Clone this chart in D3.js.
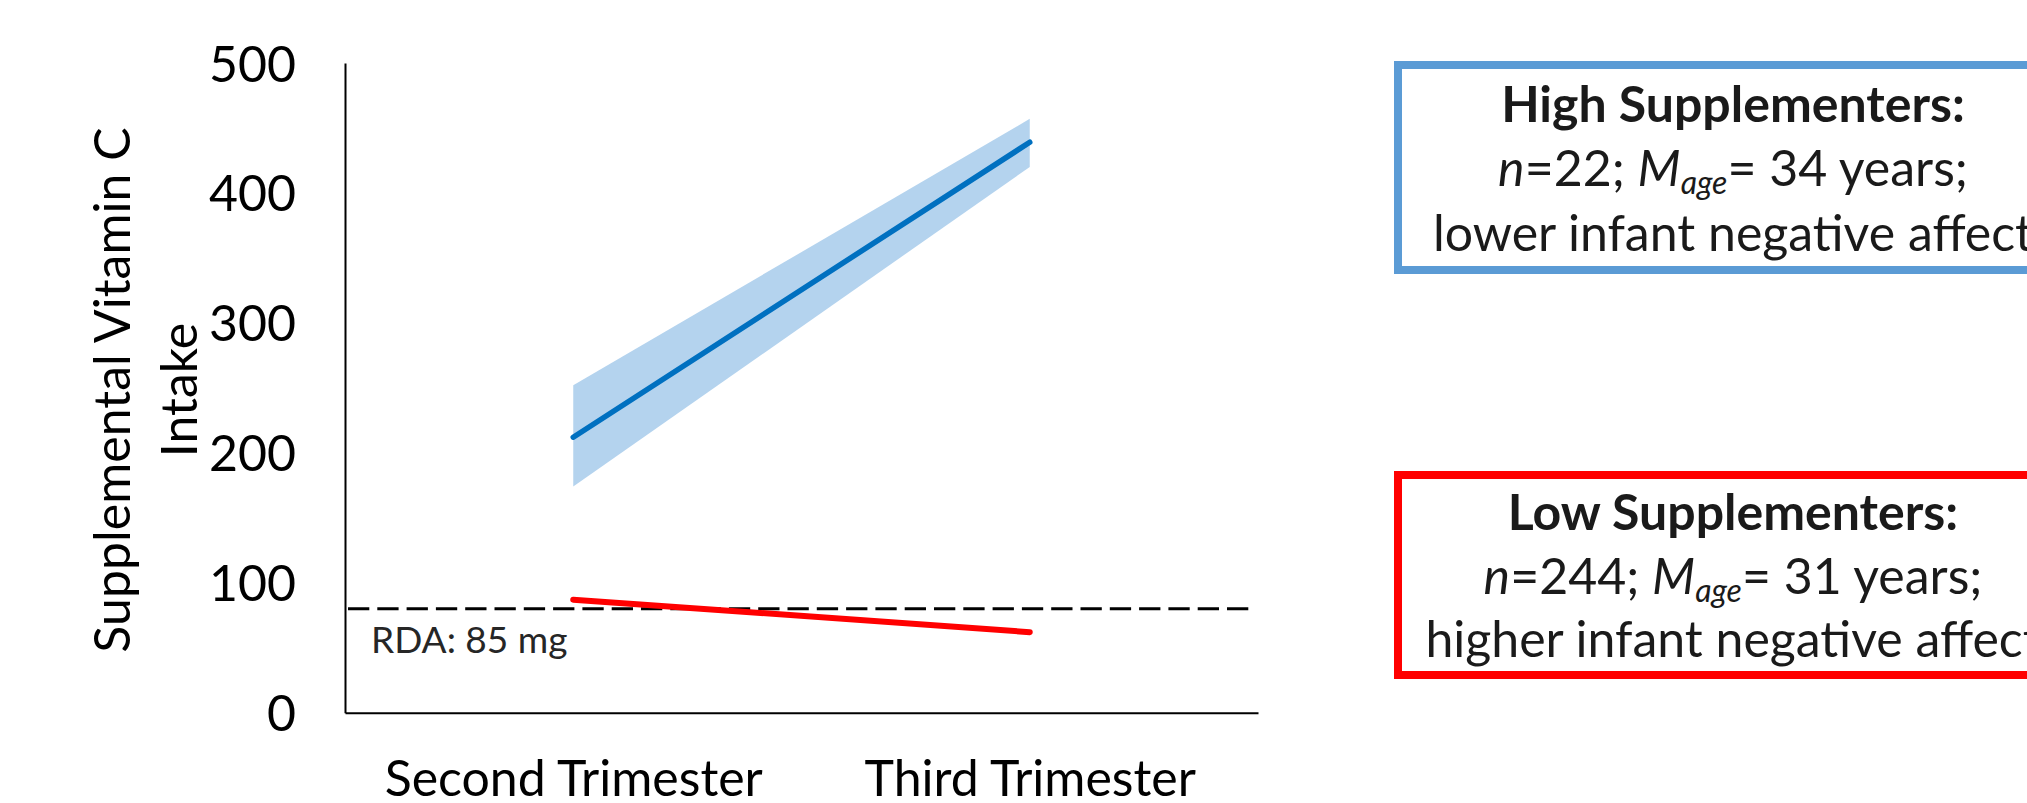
<!DOCTYPE html>
<html>
<head>
<meta charset="utf-8">
<script src="https://cdn.jsdelivr.net/npm/d3@7"></script>
<style>
  html, body { margin: 0; padding: 0; background: #fff; overflow: hidden; }
  svg { display: block; font-family: Lato, "Open Sans", sans-serif; }
</style>
</head>
<body>
<svg id="chart" width="2027" height="803"></svg>
<script>
// data
var trimesters = ["Second Trimester", "Third Trimester"];
var highMean = [212, 439];
var highLower = [174, 420];
var highUpper = [252, 457];
var lowMean = [87, 62];
var yTicks = [0, 100, 200, 300, 400, 500];
var rdaValue = 80;
var rdaLabel = "RDA: 85 mg";
var groupTitles = ["High Supplementers:", "Low Supplementers:"];
var groupN = [22, 244];
var groupAge = [34, 31];
var groupAffect = ["lower infant negative affect", "higher infant negative affect"];

var svg = d3.select("#chart");
var fs = 50;

var x = d3.scalePoint().domain(trimesters).range([345, 1258]).padding(0.5);
var y = d3.scaleLinear().domain([0, 500]).range([712.7, 63]);

// confidence band for high supplementers
var band = trimesters.map(function(t, i){ return {t: t, lo: highLower[i], hi: highUpper[i]}; });
svg.append("path")
    .datum(band)
    .attr("fill", "#b4d3ee")
    .attr("d", d3.area()
      .x(function(d){ return x(d.t); })
      .y0(function(d){ return y(d.lo); })
      .y1(function(d){ return y(d.hi); }));

// RDA dashed line
svg.append("line")
    .attr("x1", 348).attr("x2", 1251)
    .attr("y1", y(rdaValue)).attr("y2", y(rdaValue))
    .attr("stroke", "#000")
    .attr("stroke-width", 3)
    .attr("stroke-dasharray", "21.3,8");

svg.append("text")
    .attr("x", 371).attr("y", 653)
    .attr("font-size", 37)
    .attr("fill", "#262626")
    .text(rdaLabel);

var line = d3.line()
    .x(function(d, i){ return x(trimesters[i]); })
    .y(function(d){ return y(d); });

svg.append("path").datum(lowMean)
    .attr("fill", "none").attr("stroke", "#ff0000")
    .attr("stroke-width", 6).attr("stroke-linecap", "round")
    .attr("d", line);

svg.append("path").datum(highMean)
    .attr("fill", "none").attr("stroke", "#0070c0")
    .attr("stroke-width", 5.5).attr("stroke-linecap", "round")
    .attr("d", line);

// axes
var yAxis = svg.append("g")
    .attr("transform", "translate(345,0)")
    .call(d3.axisLeft(y).tickValues(yTicks).tickSize(0).tickSizeOuter(0).tickPadding(49));
yAxis.select(".domain").attr("stroke", "#000").attr("stroke-width", 2);
yAxis.selectAll("text").attr("font-size", fs).attr("font-family", "Lato").attr("fill", "#000").attr("dy", "0.36em");

var xAxis = svg.append("g")
    .attr("transform", "translate(0,712.7)")
    .call(d3.axisBottom(x).tickSize(0).tickSizeOuter(0).tickPadding(48));
xAxis.select(".domain").attr("stroke", "#000").attr("stroke-width", 2);
xAxis.selectAll("text").attr("font-size", fs).attr("font-family", "Lato").attr("fill", "#000").attr("dy", "0.71em");

var title = svg.append("text")
    .attr("transform", "translate(129.5,390) rotate(-90)")
    .attr("text-anchor", "middle")
    .attr("font-size", fs);
title.append("tspan").attr("x", 0).attr("y", 0).text("Supplemental Vitamin C");
title.append("tspan").attr("x", 0).attr("y", 67).text("Intake");

// group boxes
var boxTop = [65, 475];
var boxH = [205, 200];
var boxColor = ["#5b9bd5", "#ff0000"];
var lineY = [[122, 186, 251], [530, 594, 657]];

groupTitles.forEach(function(t, i){
  var g = svg.append("g");
  g.append("rect")
      .attr("x", 1398).attr("y", boxTop[i])
      .attr("width", 700).attr("height", boxH[i])
      .attr("fill", "#fff")
      .attr("stroke", boxColor[i]).attr("stroke-width", 8);
  g.append("text")
      .attr("x", 1733).attr("y", lineY[i][0])
      .attr("text-anchor", "middle").attr("font-size", fs).attr("font-weight", "bold")
      .attr("fill", "#1a1a1a")
      .text(t);
  var t2 = g.append("text")
      .attr("x", 1733).attr("y", lineY[i][1])
      .attr("text-anchor", "middle").attr("font-size", fs)
      .attr("fill", "#1a1a1a");
  t2.append("tspan").attr("font-style", "italic").text("n");
  t2.append("tspan").text("=" + groupN[i] + "; ");
  t2.append("tspan").attr("font-style", "italic").text("M");
  t2.append("tspan").attr("font-style", "italic").attr("font-size", 32).attr("dy", 8).text("age");
  t2.append("tspan").attr("dy", -8).text("= " + groupAge[i] + " years;");
  g.append("text")
      .attr("x", 1733).attr("y", lineY[i][2])
      .attr("text-anchor", "middle").attr("font-size", fs)
      .attr("fill", "#1a1a1a")
      .text(groupAffect[i]);
});
</script>
</body>
</html>
